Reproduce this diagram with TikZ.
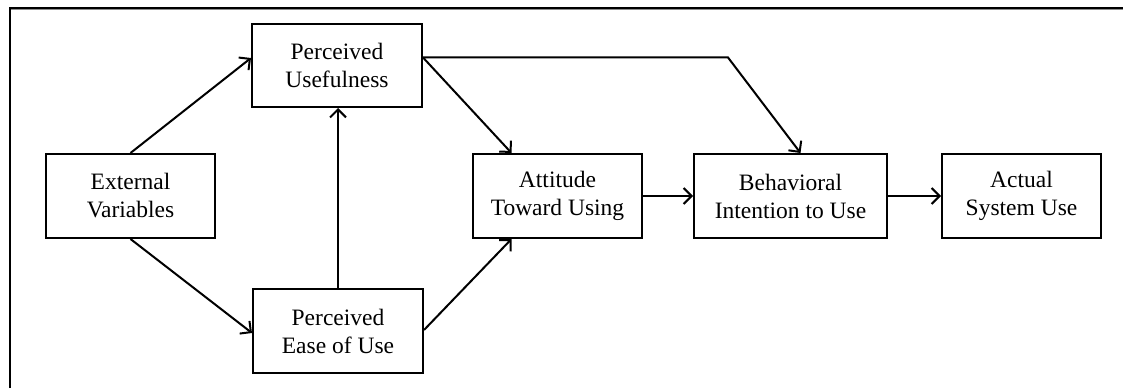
\documentclass[tikz,border=0pt]{standalone}
\usepackage{fontspec}
\setmainfont{Liberation Serif}
\usetikzlibrary{arrows.meta,calc}
\begin{document}
\begin{tikzpicture}[x=1pt,y=1pt,
  box/.style={draw=black, line width=2pt, fill=white, inner sep=0pt, align=center,
    font=\fontsize{23.5}{28}\selectfont},
  conn/.style={line width=2pt, -{Straight Barb[length=8pt,width=16pt,line width=2pt]}},
  frame/.style={line width=2pt, draw=black}]
\useasboundingbox (0,0) rectangle (1123,388);
% outer frame (top and left only)
\draw[line width=1pt, draw=black!45] (11,378.2) -- (1123,378.2);
\draw[frame] (10,0) -- (10,380) -- (1123,380);
% nodes
\node[box, minimum width=169pt, minimum height=84pt] (ext) at (130.5,192) {External\\Variables};
\node[box, minimum width=170pt, minimum height=83pt] (pu) at (337,322.5) {Perceived\\Usefulness};
\node[box, minimum width=170pt, minimum height=84pt] (peou) at (338,57) {Perceived\\Ease of Use};
\node[box, minimum width=169pt, minimum height=84pt] (att) at (557.5,192) {Attitude\\Toward Using};
\node[box, minimum width=193pt, minimum height=84pt] (beh) at (790.5,192) {Behavioral\\Intention to Use};
\node[box, minimum width=159pt, minimum height=84pt] (act) at (1021.5,192) {Actual\\System Use};
\coordinate (bend) at (728,330.5);
% connectors
\draw[conn] (ext.north) -- ([yshift=7.5pt]pu.west);
\draw[conn] (ext.south) -- ([yshift=-2pt]peou.west);
\draw[conn] (peou.north) -- (peou.north |- pu.south);
\draw[conn] ([yshift=8pt]pu.east) -- ([xshift=-46pt]att.north);
\draw[conn, line join=miter] ([yshift=8pt]pu.east) -- (bend) -- ([xshift=10pt]beh.north);
\draw[conn] ([yshift=1pt]peou.east) -- ([xshift=-46pt]att.south);
\draw[conn] (att.east) -- (beh.west);
\draw[conn] (beh.east) -- (act.west);
\end{tikzpicture}
\end{document}
